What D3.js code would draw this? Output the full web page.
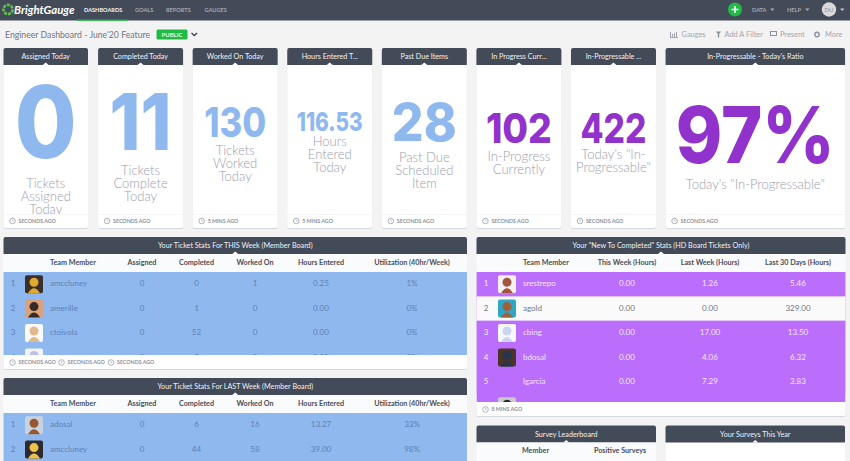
<!DOCTYPE html>
<html>
<head>
<meta charset="utf-8">
<title>Engineer Dashboard</title>
<script src="https://cdn.jsdelivr.net/npm/d3@7"></script>
<style>
html, body { margin: 0; padding: 0; background: #f3f3f3; overflow: hidden; }
svg { display: block; }
text { font-family: Lato, "Open Sans", sans-serif; }
</style>
</head>
<body>
<svg id="dash" width="850" height="461"></svg>
<script>
// ---- data ----
const navItems = ["DASHBOARDS", "GOALS", "REPORTS", "GAUGES"];
const cardTitles = ["Assigned Today", "Completed Today", "Worked On Today", "Hours Entered T...", "Past Due Items", "In Progress Curr...", "In-Progressable ...", "In-Progressable - Today's Ratio"];
const cardValues = ["0", "11", "130", "116.53", "28", "102", "422", "97%"];
const cardLabels = [
  ["Tickets", "Assigned", "Today"],
  ["Tickets", "Complete", "Today"],
  ["Tickets", "Worked", "Today"],
  ["Hours", "Entered", "Today"],
  ["Past Due", "Scheduled", "Item"],
  ["In-Progress", "Currently"],
  ["Today's \"In-", "Progressable\""],
  ["Today's \"In-Progressable\""]
];
const cardAges = ["SECONDS AGO", "SECONDS AGO", "5 MINS AGO", "5 MINS AGO", "SECONDS AGO", "SECONDS AGO", "SECONDS AGO", "SECONDS AGO"];

const memberColumns = ["Assigned", "Completed", "Worked On", "Hours Entered", "Utilization (40hr/Week)"];
const thisWeekMembers = ["amccluney", "amerille", "ctoivola", "kmoran"];
const thisWeekRows = [
  ["0", "0", "1", "0.25", "1%"],
  ["0", "1", "0", "0.00", "0%"],
  ["0", "52", "0", "0.00", "0%"],
  ["0", "5", "0", "0.00", "0%"]
];
const lastWeekMembers = ["adosal", "amccluney"];
const lastWeekRows = [
  ["0", "6", "16", "13.27", "33%"],
  ["0", "44", "58", "39.00", "98%"]
];
const newColumns = ["This Week (Hours)", "Last Week (Hours)", "Last 30 Days (Hours)"];
const newMembers = ["srestrepo", "agold", "cbing", "bdosal", "lgarcia"];
const newRows = [
  ["0.00", "1.26", "5.46"],
  ["0.00", "0.00", "329.00"],
  ["0.00", "17.00", "13.50"],
  ["0.00", "4.06", "6.32"],
  ["0.00", "7.29", "3.83"]
];

// ---- look and layout ----
const DARK = "#434a58", BLUE = "#8fb9ee", PURPLE = "#9232cc", ROW_PURPLE = "#bb6efc", GREY = "#9ba0ad", GREEN = "#1fbb45";
const svg = d3.select("#dash");
const defs = svg.append("defs");

const cardX = d3.scaleLinear().domain([0, 1]).range([3.5, 98.08]);
const cardColor = d3.scaleOrdinal().domain(cardValues).range([BLUE, BLUE, BLUE, BLUE, BLUE, PURPLE, PURPLE, PURPLE]);
const cardW = [84.5, 85, 85, 85, 85, 85, 85, 179.5];
const valueSize = [100, 78, 41, 26, 52, 41, 41, 79];
const valueWidth = [62, 62, 62, 66, 65, 66, 66, 159];
const valueBase = [158, 150, 137, 131, 141, 143, 143, 163];
const labelTop = [183, 170, 150, 141, 157, 156, 154, 184];

function panel(x, y, w, h, title, headH) {
  const g = svg.append("g");
  g.append("rect").attr("x", x).attr("y", y + 1).attr("width", w).attr("height", h).attr("rx", 2).attr("fill", "#d6d8e0");
  g.append("rect").attr("x", x).attr("y", y).attr("width", w).attr("height", h).attr("rx", 2).attr("fill", "#fff");
  g.append("path").attr("d", `M${x} ${y + headH}V${y + 2}Q${x} ${y} ${x + 2} ${y}H${x + w - 2}Q${x + w} ${y} ${x + w} ${y + 2}V${y + headH}Z`).attr("fill", DARK);
  // the small white notch under the title
  g.append("path").attr("d", `M${x + w / 2 - 3} ${y + headH}L${x + w / 2} ${y + headH - 2.5}L${x + w / 2 + 3} ${y + headH}Z`).attr("fill", "#fff");
  g.append("text").attr("x", x + w / 2).attr("y", y + headH / 2 + 2.6).attr("text-anchor", "middle")
    .attr("font-size", 7.2).attr("fill", "#f0f1f4").text(title);
  return g;
}

function ageTag(g, x, y, label) {
  g.append("circle").attr("cx", x).attr("cy", y).attr("r", 2.8).attr("fill", "none").attr("stroke", "#8c909c").attr("stroke-width", 0.7);
  g.append("path").attr("d", `M${x} ${y - 1.6}V${y}H${x + 1.2}`).attr("fill", "none").attr("stroke", "#8c909c").attr("stroke-width", 0.5);
  g.append("text").attr("x", x + 6).attr("y", y + 1.9).attr("font-size", 5.3).attr("font-weight", 700).attr("fill", "#8c909c").text(label);
}

// small stand-in portrait for the avatar photos
function avatar(g, x, y, skin, back) {
  g.append("rect").attr("x", x).attr("y", y).attr("width", 18).attr("height", 18).attr("rx", 2).attr("fill", back);
  g.append("ellipse").attr("cx", x + 9).attr("cy", y + 7).attr("rx", 4.5).attr("ry", 4.5).attr("fill", skin);
  g.append("path").attr("d", `M${x + 3} ${y + 18}Q${x + 9} ${y + 8} ${x + 15} ${y + 18}Z`).attr("fill", skin);
}

// top bar
svg.append("rect").attr("width", 850).attr("height", 20.5).attr("fill", DARK);
svg.append("circle").attr("cx", 8).attr("cy", 9.5).attr("r", 4.6).attr("fill", "none").attr("stroke", "#5fc24d").attr("stroke-width", 2.6).attr("stroke-dasharray", "3 1");
svg.append("text").attr("x", 14).attr("y", 14).attr("font-size", 11.4).attr("font-weight", 700).attr("font-style", "italic").attr("fill", "#fff").text("BrightGauge");
const navX = d3.scaleOrdinal().domain(navItems).range([84, 135, 166, 204.5]);
svg.selectAll(".nav").data(navItems).enter().append("text").attr("class", "nav")
  .attr("x", d => navX(d)).attr("y", 12).attr("font-size", 5.6).attr("font-weight", 700)
  .attr("fill", (d, i) => i === 0 ? "#f4f5f6" : "#a5a9b2").text(d => d);
svg.append("rect").attr("x", 77).attr("y", 19.5).attr("width", 51).attr("height", 1.3).attr("fill", GREEN);
svg.append("circle").attr("cx", 735).attr("cy", 9.5).attr("r", 7).attr("fill", GREEN);
svg.append("path").attr("d", "M735 6V13M731.5 9.5H738.5").attr("stroke", "#fff").attr("stroke-width", 1.6);
[["DATA", 752], ["HELP", 787]].forEach(([t, x]) => {
  svg.append("text").attr("x", x).attr("y", 12).attr("font-size", 5.6).attr("font-weight", 700).attr("fill", "#a5a9b2").text(t);
  svg.append("path").attr("d", `M${x + 18} 8.5h4.6l-2.3 2.4z`).attr("fill", "#a5a9b2");
});
svg.append("circle").attr("cx", 829).attr("cy", 9.5).attr("r", 7.2).attr("fill", "#d9d9d9");
svg.append("text").attr("x", 829).attr("y", 12).attr("text-anchor", "middle").attr("font-size", 6).attr("fill", "#8f8f8f").text("DU");
svg.append("path").attr("d", "M840 8.5h4.6l-2.3 2.4z").attr("fill", "#c4c6cb");

// title row
svg.append("text").attr("x", 5).attr("y", 37.5).attr("font-size", 8.7).attr("fill", "#72767f").text("Engineer Dashboard - June'20 Feature");
svg.append("rect").attr("x", 156.5).attr("y", 29.5).attr("width", 31).attr("height", 10).attr("rx", 1.5).attr("fill", GREEN);
svg.append("text").attr("x", 172).attr("y", 37).attr("text-anchor", "middle").attr("font-size", 6).attr("font-weight", 700).attr("fill", "#e8f7ea").text("PUBLIC");
svg.append("path").attr("d", "M191.5 33l2.8 2.6 2.8-2.6").attr("fill", "none").attr("stroke", "#3f4450").attr("stroke-width", 1.3);
[["Gauges", 681.5], ["Add A Filter", 724.5], ["Present", 780], ["More", 825]].forEach(([t, x]) => {
  svg.append("text").attr("x", x).attr("y", 37).attr("font-size", 7.4).attr("fill", "#a3a6ae").text(t);
});
svg.append("path").attr("d", "M670 37.5h8M670.5 37v-5M672.5 37v-3M674.5 37v-4M676.5 37v-5").attr("stroke", "#a3a6ae").attr("stroke-width", 1);
svg.append("path").attr("d", "M716 31.5h5l-1.8 2.4v3.6h-1.4v-3.6z").attr("fill", "#8e929b");
svg.append("rect").attr("x", 770.5).attr("y", 31.5).attr("width", 6).attr("height", 4).attr("fill", "none").attr("stroke", "#8e929b");
svg.append("circle").attr("cx", 817).attr("cy", 34.5).attr("r", 2.2).attr("fill", "none").attr("stroke", "#8e929b").attr("stroke-width", 1.4);

// stat cards
cardTitles.forEach((title, i) => {
  const x = cardX(i);
  const w = cardW[i], cx = x + w / 2;
  const g = panel(x, 48, w, 180, title, 17);
  const clipId = "card" + i;
  defs.append("clipPath").attr("id", clipId).append("rect").attr("x", x).attr("y", 65).attr("width", w).attr("height", 149);
  const body = g.append("g").attr("clip-path", `url(#${clipId})`);
  // style(), not attr(): the css rule on text would win over a font-family attribute
  body.append("text").attr("x", cx).attr("y", valueBase[i]).attr("text-anchor", "middle")
    .style("font-family", "Inter").attr("font-size", valueSize[i]).attr("font-weight", 800)
    .attr("textLength", valueWidth[i]).attr("lengthAdjust", "spacingAndGlyphs")
    .attr("fill", cardColor(cardValues[i])).text(cardValues[i]);
  body.selectAll(".lbl").data(cardLabels[i]).enter().append("text")
    .attr("x", cx).attr("y", (d, k) => labelTop[i] + 5 + k * 13).attr("text-anchor", "middle")
    .attr("font-size", 13).attr("font-weight", 300).attr("fill", GREY).text(d => d);
  g.append("rect").attr("x", x).attr("y", 214).attr("width", w).attr("height", 0.6).attr("fill", "#f1f1f3");
  ageTag(g, x + 9, 221, cardAges[i]);
});

// generic table: text columns go through an ordinal scale, rows through a linear one
function table(opts) {
  const { x, y, w, h, title, columns, colX, members, rows, colorOf, textOf, faces, extraFaces, footY } = opts;
  const g = panel(x, y, w, h, title, 17);
  const nameX = x + 46.5;
  g.append("rect").attr("x", x).attr("y", y + 17).attr("width", w).attr("height", 18).attr("fill", "#fafbfc");
  const scaleCol = d3.scaleOrdinal().domain(d3.range(columns.length)).range(colX);
  g.append("text").attr("x", nameX).attr("y", y + 28).attr("font-size", 7.2).attr("font-weight", 700).attr("fill", "#4a4e58").text("Team Member");
  g.selectAll(".head").data(columns).enter().append("text")
    .attr("x", (d, i) => scaleCol(i)).attr("y", y + 28).attr("text-anchor", "middle")
    .attr("font-size", 7.2).attr("font-weight", 700).attr("fill", "#4a4e58").text(d => d);

  const top = y + 35;
  const bottom = footY === undefined ? 461 : footY;
  const clipId = "t" + Math.round(x) + "_" + y;
  defs.append("clipPath").attr("id", clipId).append("rect").attr("x", x).attr("y", top).attr("width", w).attr("height", bottom - top);
  const body = g.append("g").attr("clip-path", `url(#${clipId})`);
  const rowY = d3.scaleLinear().domain([0, 1]).range([top, top + 24.4]);
  body.append("rect").attr("x", x).attr("y", top).attr("width", w).attr("height", bottom - top).attr("fill", opts.fill);
  rows.forEach((r, i) => {
    const y0 = rowY(i), mid = y0 + 12.2 + 2.2;
    body.append("rect").attr("x", x).attr("y", y0).attr("width", w).attr("height", 24.4).attr("fill", colorOf(i));
    body.append("text").attr("x", x + 9.5).attr("y", mid).attr("text-anchor", "middle").attr("font-size", 8).attr("fill", textOf(i)).text(i + 1);
    if (faces[i]) avatar(body, x + 21.5, y0 + 3.2, faces[i][0], faces[i][1]);
    body.append("text").attr("x", nameX).attr("y", mid).attr("font-size", 8).attr("fill", textOf(i)).text(members[i]);
    body.selectAll(null).data(r).enter().append("text")
      .attr("x", (d, k) => scaleCol(k)).attr("y", mid).attr("text-anchor", "middle")
      .attr("font-size", 8).attr("fill", textOf(i)).text(d => d);
  });
  if (extraFaces) avatar(body, x + 21.5, rowY(rows.length) + 3.2, extraFaces[0], extraFaces[1]);
  return g;
}

const memberX = [142, 196.5, 255, 321, 412];
const blueText = "#5b80b6";
const t1 = table({
  x: 3.5, y: 237, w: 463.5, h: 132, title: "Your Ticket Stats For THIS Week (Member Board)",
  columns: memberColumns, colX: memberX, members: thisWeekMembers, rows: thisWeekRows, fill: BLUE,
  colorOf: () => BLUE, textOf: () => blueText, footY: 355,
  faces: [["#e0a92f", "#3a2f2a"], ["#3a2a24", "#d9a27c"], ["#e2b88d", "#fbfbfb"], ["#b9c0ea", "#f2f3fb"]]
});
ageTag(t1, 12.5, 362.5, "SECONDS AGO");
ageTag(t1, 61.5, 362.5, "SECONDS AGO");
ageTag(t1, 111, 362.5, "SECONDS AGO");

table({
  x: 3.5, y: 378, w: 463.5, h: 90, title: "Your Ticket Stats For LAST Week (Member Board)",
  columns: memberColumns, colX: memberX, members: lastWeekMembers, rows: lastWeekRows, fill: BLUE,
  colorOf: () => BLUE, textOf: () => blueText,
  faces: [["#96592f", "#c9d3df"], ["#efc24a", "#2d2b30"]]
});

const t3 = table({
  x: 476.5, y: 237, w: 369, h: 179, title: "Your \"New To Completed\" Stats (HD Board Tickets Only)",
  columns: newColumns, colX: [627, 710, 798], members: newMembers, rows: newRows, fill: ROW_PURPLE,
  colorOf: i => i === 1 ? "#fafafb" : ROW_PURPLE, textOf: i => i === 1 ? "#73777f" : "#f3e6ff", footY: 402,
  faces: [["#a4553f", "#f5f0f4"], ["#a0603a", "#2ea6c4"], ["#cdd4f2", "#f7f8fd"], ["#27344f", "#4a3327"], null],
  extraFaces: ["#2a2c33", "#c9cacc"]
});
ageTag(t3, 485.5, 409.5, "8 MINS AGO");

// survey panels are cut off by the bottom of the window
const s1 = panel(476.5, 425.5, 179.5, 50, "Survey Leaderboard", 17);
s1.append("rect").attr("x", 476.5).attr("y", 442.5).attr("width", 179.5).attr("height", 19).attr("fill", "#fafbfc");
s1.append("text").attr("x", 535.5).attr("y", 453).attr("text-anchor", "middle").attr("font-size", 7.2).attr("font-weight", 700).attr("fill", "#4a4e58").text("Member");
s1.append("text").attr("x", 620).attr("y", 453).attr("text-anchor", "middle").attr("font-size", 7.2).attr("font-weight", 700).attr("fill", "#4a4e58").text("Positive Surveys");
panel(665.5, 425.5, 179.5, 50, "Your Surveys This Year", 17);
</script>
</body>
</html>
